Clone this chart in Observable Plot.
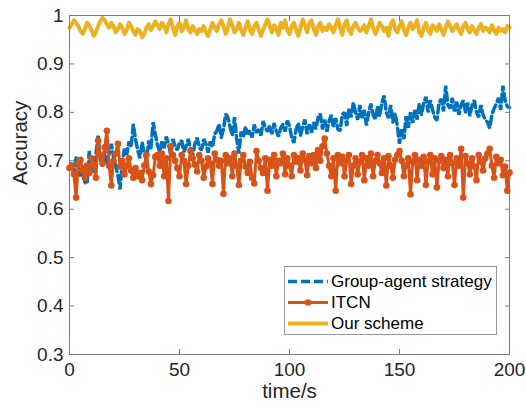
<!DOCTYPE html>
<html><head><meta charset="utf-8">
<script src="https://cdn.jsdelivr.net/npm/d3@7"></script>
<script src="https://cdn.jsdelivr.net/npm/@observablehq/plot@0.6"></script>
<style>
body{margin:0;background:#fff;}
#wrap{position:relative;width:526px;height:410px;font-family:"Liberation Sans",Arial,Helvetica,sans-serif;}
#legend{position:absolute;left:284px;top:266px;width:213px;height:69px;border:1px solid #999;background:#fff;box-sizing:border-box;}
.row{position:absolute;left:0;height:21px;display:flex;align-items:center;font-size:17px;color:#000;white-space:nowrap;}
.row svg{display:block;margin-left:3px;margin-right:3px;}
</style></head><body><div id="wrap"></div>
<script>
const seriesNames = ["Group-agent strategy", "ITCN", "Our scheme"];
const seriesColors = ["#0072BD", "#D95319", "#EDB120"];
const xLabel = "time/s";
const yLabel = "Accuracy";
const xTicks = [0, 50, 100, 150, 200];
const yTicks = [0.3, 0.4, 0.5, 0.6, 0.7, 0.8, 0.9, 1];
const yTickLabels = ["0.3", "0.4", "0.5", "0.6", "0.7", "0.8", "0.9", "1"];

const groupAgent = [
0.688,0.695,0.672,0.707,0.684,0.668,0.690,0.655,0.653,0.720,
0.698,0.676,0.712,0.752,0.705,0.688,0.722,0.694,0.715,0.735,
0.708,0.690,0.670,0.641,0.698,0.725,0.712,0.740,0.728,0.775,
0.745,0.722,0.705,0.738,0.715,0.700,0.742,0.725,0.780,0.755,
0.732,0.718,0.740,0.726,0.750,0.735,0.712,0.745,0.730,0.722,
0.738,0.742,0.718,0.730,0.745,0.725,0.712,0.735,0.748,0.728,
0.722,0.745,0.735,0.717,0.740,0.728,0.755,0.762,0.776,0.748,
0.765,0.797,0.790,0.770,0.752,0.790,0.745,0.715,0.760,0.748,
0.770,0.755,0.762,0.748,0.775,0.758,0.765,0.752,0.782,0.768,
0.760,0.772,0.755,0.778,0.762,0.750,0.768,0.775,0.760,0.783,
0.772,0.748,0.737,0.765,0.778,0.752,0.770,0.785,0.755,0.775,
0.758,0.780,0.765,0.790,0.797,0.765,0.785,0.760,0.782,0.795,
0.770,0.788,0.765,0.762,0.795,0.800,0.772,0.808,0.790,0.820,
0.800,0.785,0.815,0.788,0.805,0.773,0.800,0.818,0.795,0.785,
0.812,0.792,0.820,0.835,0.800,0.788,0.815,0.780,0.798,0.773,
0.735,0.765,0.745,0.792,0.768,0.800,0.778,0.805,0.785,0.818,
0.795,0.820,0.832,0.800,0.825,0.805,0.790,0.783,0.820,0.828,
0.802,0.855,0.815,0.808,0.830,0.802,0.822,0.795,0.815,0.825,
0.800,0.820,0.792,0.815,0.825,0.800,0.790,0.815,0.795,0.785,
0.780,0.767,0.795,0.808,0.818,0.830,0.805,0.855,0.825,0.812,
0.810];

const itcn = [
0.685,0.690,0.672,0.624,0.695,0.702,0.680,0.665,0.690,0.675,
0.705,0.692,0.665,0.742,0.712,0.695,0.728,0.762,0.690,0.649,
0.700,0.715,0.735,0.688,0.700,0.672,0.690,0.705,0.680,0.665,
0.685,0.668,0.675,0.660,0.690,0.712,0.678,0.652,0.670,0.708,
0.712,0.690,0.715,0.668,0.705,0.617,0.730,0.712,0.700,0.685,
0.668,0.712,0.700,0.652,0.690,0.720,0.705,0.692,0.678,0.712,
0.700,0.665,0.688,0.705,0.695,0.652,0.715,0.702,0.690,0.700,
0.632,0.712,0.695,0.705,0.668,0.715,0.690,0.650,0.700,0.712,
0.688,0.675,0.698,0.665,0.653,0.720,0.700,0.685,0.675,0.705,
0.638,0.702,0.690,0.712,0.668,0.700,0.695,0.715,0.672,0.705,
0.690,0.668,0.712,0.698,0.705,0.680,0.715,0.702,0.670,0.710,
0.695,0.712,0.685,0.722,0.700,0.730,0.746,0.715,0.690,0.668,
0.705,0.638,0.712,0.695,0.708,0.668,0.700,0.712,0.652,0.690,
0.705,0.672,0.698,0.712,0.660,0.705,0.690,0.715,0.668,0.700,
0.712,0.695,0.675,0.705,0.649,0.710,0.690,0.665,0.702,0.712,
0.720,0.700,0.668,0.690,0.705,0.631,0.698,0.712,0.660,0.702,
0.690,0.708,0.650,0.698,0.712,0.672,0.705,0.645,0.700,0.710,
0.685,0.702,0.668,0.712,0.695,0.650,0.705,0.690,0.725,0.624,
0.710,0.695,0.672,0.705,0.688,0.660,0.712,0.698,0.680,0.705,
0.715,0.725,0.690,0.665,0.708,0.695,0.702,0.670,0.688,0.638,
0.676];

const ourScheme = [
0.975,0.982,0.990,0.985,0.978,0.968,0.962,0.972,0.985,0.980,
0.970,0.958,0.965,0.978,0.988,0.995,0.990,0.982,0.975,0.985,
0.978,0.965,0.972,0.982,0.975,0.962,0.970,0.985,0.978,0.968,
0.960,0.972,0.968,0.955,0.962,0.975,0.982,0.970,0.978,0.988,
0.980,0.972,0.985,0.978,0.965,0.982,0.992,0.975,0.960,0.978,
0.985,0.968,0.975,0.990,0.972,0.965,0.978,0.970,0.962,0.972,
0.968,0.978,0.965,0.958,0.972,0.985,0.975,0.968,0.982,0.990,
0.978,0.962,0.975,0.992,0.980,0.965,0.972,0.985,0.970,0.960,
0.975,0.988,0.970,0.962,0.978,0.985,0.972,0.958,0.970,0.982,
0.992,0.978,0.965,0.980,0.972,0.960,0.985,0.975,0.990,0.970,
0.962,0.978,0.985,0.970,0.958,0.975,0.992,0.980,0.965,0.985,
0.990,0.972,0.960,0.978,0.985,0.968,0.975,0.970,0.982,0.975,
0.965,0.980,0.992,0.975,0.960,0.982,0.990,0.970,0.962,0.978,
0.985,0.975,0.968,0.972,0.980,0.965,0.978,0.992,0.975,0.962,
0.972,0.985,0.978,0.968,0.975,0.958,0.982,0.990,0.972,0.965,
0.978,0.988,0.970,0.960,0.975,0.985,0.972,0.978,0.990,0.965,
0.958,0.975,0.985,0.970,0.962,0.980,0.975,0.968,0.982,0.972,
0.960,0.975,0.988,0.978,0.968,0.975,0.982,0.970,0.962,0.978,
0.985,0.972,0.965,0.978,0.970,0.962,0.975,0.982,0.968,0.975,
0.972,0.965,0.980,0.970,0.962,0.975,0.968,0.972,0.965,0.978,
0.975];

const time = d3.range(groupAgent.length);
const toRows = (vals) => vals.map((v, i) => ({t: time[i], v}));
const gaRows = toRows(groupAgent), itRows = toRows(itcn), osRows = toRows(ourScheme);

const axisColor = "#7a7a7a";
const textColor = "#262626";
const yFmt = d => yTickLabels[yTicks.indexOf(d)];

const chart = Plot.plot({
  width: 526, height: 410,
  marginLeft: 69, marginRight: 17, marginTop: 15, marginBottom: 56,
  style: {fontFamily: '"Liberation Sans", Arial, Helvetica, sans-serif', fontSize: "19px", background: "#fff", color: textColor},
  x: {domain: [0, 200]},
  y: {domain: [0.3, 1]},
  marks: [
    Plot.line(gaRows, {x: "t", y: "v", stroke: seriesColors[0], strokeWidth: 3.5, strokeDasharray: "8,4", strokeLinejoin: "miter"}),
    Plot.line(itRows, {x: "t", y: "v", stroke: seriesColors[1], strokeWidth: 3}),
    Plot.dot(itRows, {x: "t", y: "v", r: 3.3, fill: seriesColors[1], stroke: "none"}),
    Plot.line(osRows, {x: "t", y: "v", stroke: seriesColors[2], strokeWidth: 4}),
    Plot.frame({stroke: axisColor}),
    Plot.axisX(xTicks, {anchor: "bottom", tickSize: -5, tickPadding: 13, stroke: axisColor, fill: textColor, label: null, fontSize: 19}),
    Plot.axisX(xTicks, {anchor: "top", tickSize: -5, stroke: axisColor, fill: "none", label: null}),
    Plot.axisY(yTicks, {anchor: "left", tickSize: -5, tickPadding: 11, tickFormat: yFmt, stroke: axisColor, fill: textColor, label: null, fontSize: 19}),
    Plot.axisY(yTicks, {anchor: "right", tickSize: -5, stroke: axisColor, fill: "none", label: null}),
    Plot.text([xLabel], {text: d => d, frameAnchor: "bottom", dy: 43, fontSize: 20.5, fill: textColor}),
    Plot.text([yLabel], {text: d => d, frameAnchor: "left", dx: -49, rotate: -90, fontSize: 20.5, fill: textColor})
  ]
});

const wrap = document.getElementById("wrap");
wrap.appendChild(chart);

// legend
const legend = document.createElement("div");
legend.id = "legend";
const rowTops = [4, 25, 46];
seriesNames.forEach((name, i) => {
  const row = document.createElement("div");
  row.className = "row";
  row.style.top = rowTops[i] + "px";
  let sw = `<svg width="40" height="21">`;
  if (i === 0) sw += `<line x1="0" y1="10.5" x2="40" y2="10.5" stroke="${seriesColors[i]}" stroke-width="3.5" stroke-dasharray="9,4"/>`;
  else if (i === 1) sw += `<line x1="0" y1="10.5" x2="40" y2="10.5" stroke="${seriesColors[i]}" stroke-width="3"/><circle cx="20" cy="10.5" r="3.3" fill="${seriesColors[i]}"/>`;
  else sw += `<line x1="0" y1="10.5" x2="40" y2="10.5" stroke="${seriesColors[i]}" stroke-width="4"/>`;
  sw += `</svg>`;
  row.innerHTML = sw + `<span>${name}</span>`;
  legend.appendChild(row);
});
wrap.appendChild(legend);
</script>
</body></html>
